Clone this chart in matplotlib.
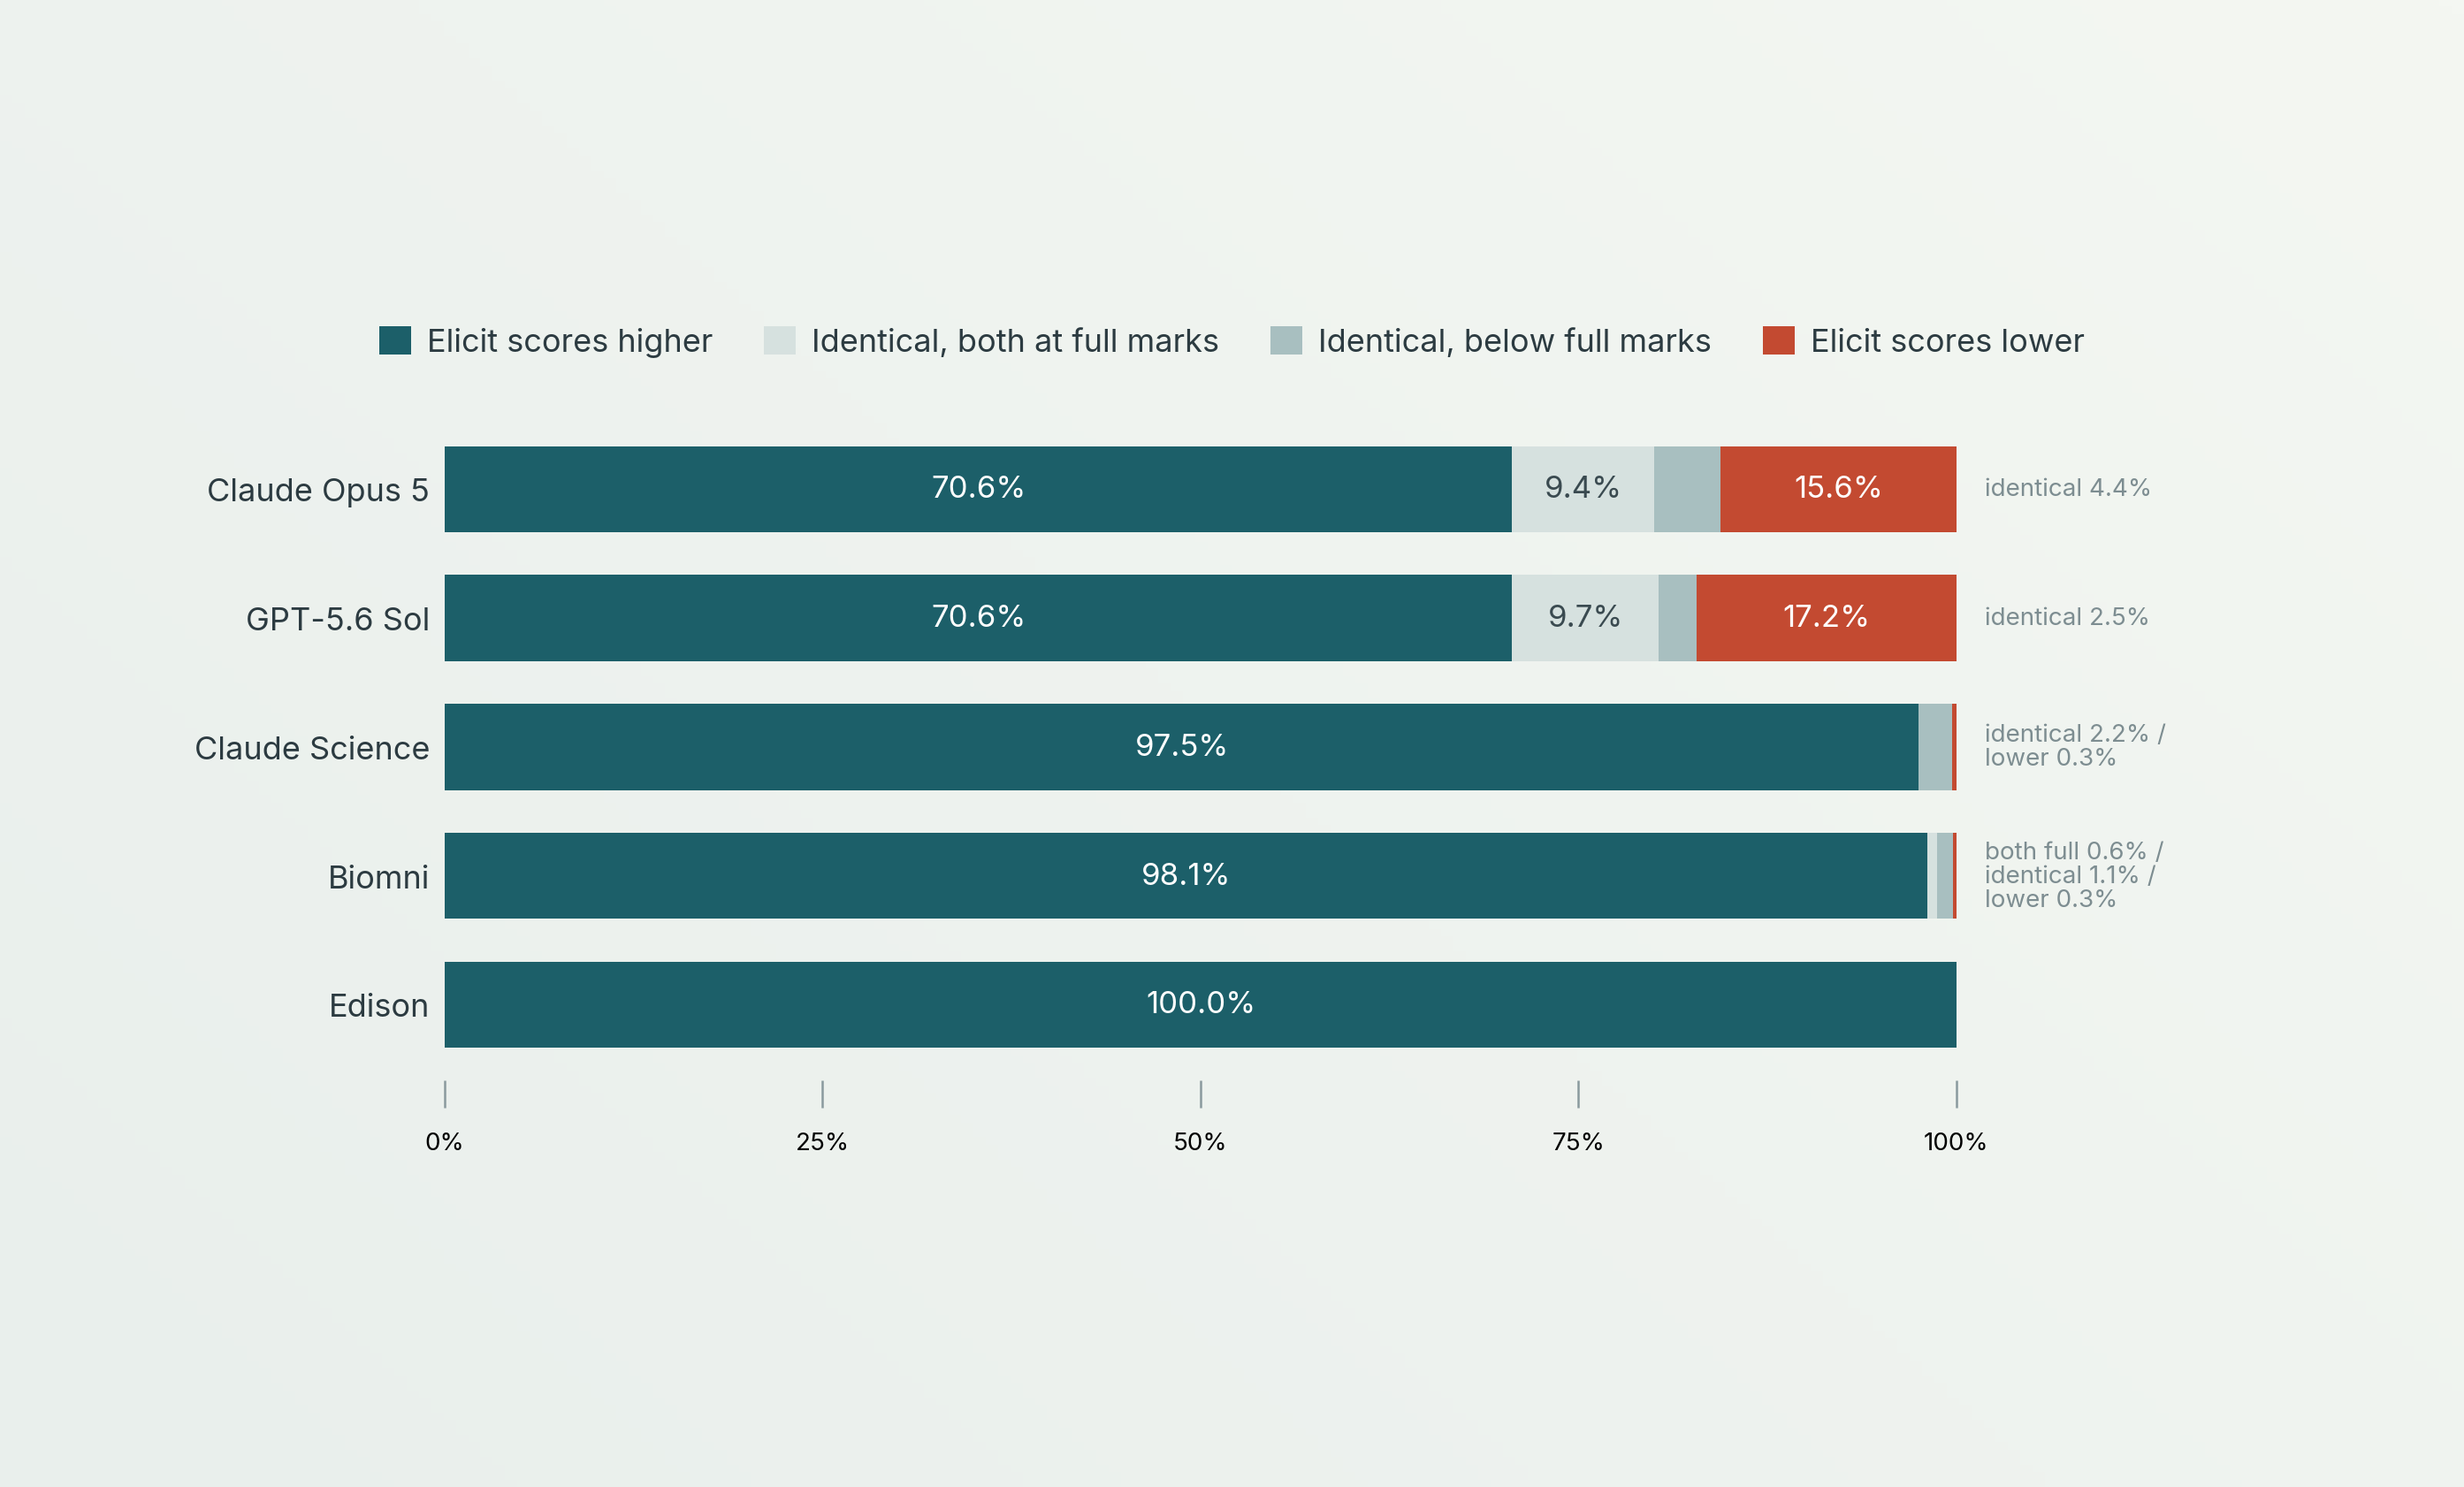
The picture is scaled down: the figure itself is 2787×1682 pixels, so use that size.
import numpy as np
import matplotlib
matplotlib.use('Agg')
import matplotlib.pyplot as plt
from matplotlib.patches import Patch

modelos = ['Claude Opus 5', 'GPT-5.6 Sol', 'Claude Science', 'Biomni', 'Edison']
maior = [70.6, 70.6, 97.5, 98.1, 100.0]
igual_cheio = [9.4, 9.7, 0.0, 0.6, 0.0]
igual_abaixo = [4.4, 2.5, 2.2, 1.1, 0.0]
menor = [15.6, 17.2, 0.3, 0.3, 0.0]
notas = ['identical 4.4%', 'identical 2.5%', 'identical 2.2% /\nlower 0.3%',
         'both full 0.6% /\nidentical 1.1% /\nlower 0.3%', '']
series_nomes = ['Elicit scores higher', 'Identical, both at full marks',
                'Identical, below full marks', 'Elicit scores lower']
cores = ['#1c5f69', '#d6e1df', '#a8bfc0', '#c34a31']
cores_texto = ['white', '#3a4a50', '#3a4a50', 'white']

plt.rcParams['font.family'] = ['Inter', 'DejaVu Sans']
W, H = 1568, 947
fig = plt.figure(figsize=(2787 / 200, 1683 / 200), dpi=200)

# fundo em gradiente
bg = fig.add_axes([0, 0, 1, 1], zorder=-10)
gx, gy = np.meshgrid(np.linspace(0, 1, 200), np.linspace(0, 1, 200))
bg.imshow(gx * 0.6 + (1 - gy) * 0.4, cmap=matplotlib.colors.LinearSegmentedColormap.from_list(
    'bg', ['#e9efec', '#f4f7f2']), aspect='auto', extent=[0, 1, 0, 1])
bg.axis('off')

x0, x1 = 283 / W, 1245 / W
top, bot = 271 / H, 681 / H
ax = fig.add_axes([x0, 1 - bot, x1 - x0, bot - top])
ax.set_facecolor('none')

y = np.arange(len(modelos))
esq = np.zeros(len(modelos))
for vals, cor, ct in zip([maior, igual_cheio, igual_abaixo, menor], cores, cores_texto):
    vals = np.array(vals)
    ax.barh(y, vals, left=esq, height=0.67, color=cor, linewidth=0)
    for i, v in enumerate(vals):
        if v >= 5:
            ax.text(esq[i] + v / 2, i, f'{v:.1f}%', ha='center', va='center',
                    fontsize=12.5, color=ct)
    esq += vals

for i, n in enumerate(notas):
    ax.text(101.9, i, n, ha='left', va='center', fontsize=10, color='#7d8d91',
            linespacing=1.05)

ax.set_xlim(0, 100)
ax.set_ylim(4.5, -0.5)
ax.set_yticks(y)
ax.set_yticklabels(modelos, fontsize=13, color='#2c3b41')
ax.tick_params(axis='y', length=0, pad=6)
ax.set_xticks([0, 25, 50, 75, 100])
ax.set_xticklabels(['0%', '25%', '50%', '75%', '100%'], fontsize=9.5, color='#3a4a50')
ax.tick_params(axis='x', length=11, width=0.9, color='#8a9a9e', pad=10)
for s in ['top', 'right', 'left']:
    ax.spines[s].set_visible(False)
ax.spines['bottom'].set_position(('outward', 4.5))
ax.spines['bottom'].set_visible(False)

handles = [Patch(facecolor=c, edgecolor='none') for c in cores]
fig.legend(handles, series_nomes, loc='center', bbox_to_anchor=(0.5, 1 - 218 / H),
           ncol=4, frameon=False, fontsize=13, handlelength=1.0, handleheight=1.0,
           columnspacing=1.6, handletextpad=0.5, labelcolor='#2c3b41')

fig.savefig('out.png', dpi=200)
